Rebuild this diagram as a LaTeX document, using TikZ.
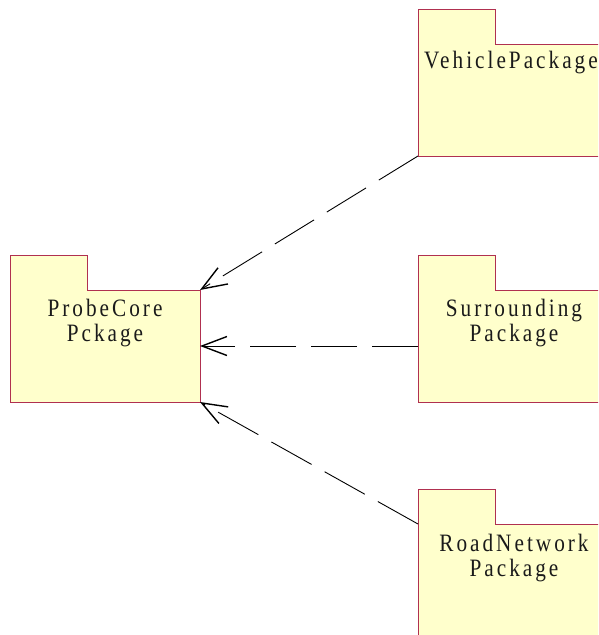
\documentclass[tikz,border=0pt]{standalone}
\usepackage{fontspec}
\usetikzlibrary{arrows.meta}
\newfontfamily\pkgfont[FakeStretch=0.85,LetterSpace=12]{Liberation Serif}
\definecolor{pkgborder}{HTML}{B03050}
\definecolor{pkgfill}{HTML}{FFFFCC}
\definecolor{pkgtext}{HTML}{1A1A1A}
\tikzset{
  pkgbody/.style={fill=pkgfill, draw=none, inner sep=0pt, outer sep=0pt, anchor=north west, minimum width=190pt, minimum height=112pt},
  pkgtab/.style={fill=pkgfill, draw=none, inner sep=0pt, outer sep=0pt, anchor=south west, minimum width=77pt, minimum height=35pt},
  pkgline/.style={draw=pkgborder, line width=1pt},
  pkglabel/.style={font=\pkgfont\fontsize{25pt}{25pt}\selectfont, text=pkgtext, align=center, inner sep=0pt, anchor=base},
  depline/.style={line width=0.9pt, dash pattern=on 46pt off 15pt, -{Straight Barb[length=25pt,width=19pt,line width=1.4pt]}}
}
\begin{document}
\begin{tikzpicture}[x=1pt,y=-1pt]
\useasboundingbox (0,0) rectangle (598,635);
\clip (0,0) rectangle (598,635);
% ProbeCore package
\node[pkgbody] (core) at (10,290) {};
\node[pkgtab] (coretab) at (10,290) {};
\draw[pkgline] (core.south west) -- (coretab.north west) -- (coretab.north east) -- (coretab.south east) -- (core.north east) -- (core.south east) -- cycle;
\node[pkglabel] (coretext) at (105,341) {ProbeCore\\Pckage};
% Vehicle package
\node[pkgbody] (veh) at (418,44) {};
\node[pkgtab] (vehtab) at (418,44) {};
\draw[pkgline] (veh.south west) -- (vehtab.north west) -- (vehtab.north east) -- (vehtab.south east) -- (veh.north east) -- (veh.south east) -- cycle;
\node[pkglabel] (vehtext) at (511,68) {VehiclePackage};
% Surrounding package
\node[pkgbody] (sur) at (418,290) {};
\node[pkgtab] (surtab) at (418,290) {};
\draw[pkgline] (sur.south west) -- (surtab.north west) -- (surtab.north east) -- (surtab.south east) -- (sur.north east) -- (sur.south east) -- cycle;
\node[pkglabel] (surtext) at (514,341) {Surrounding\\Package};
% RoadNetwork package
\node[pkgbody] (road) at (418,524) {};
\node[pkgtab] (roadtab) at (418,524) {};
\draw[pkgline] (road.south west) -- (roadtab.north west) -- (roadtab.north east) -- (roadtab.south east) -- (road.north east) -- (road.south east) -- cycle;
\node[pkglabel] (roadtext) at (514,576) {RoadNetwork\\Package};
% dependencies
\draw[depline] (veh.south west) -- (core.north east);
\draw[depline] (sur.west) -- (core.east);
\draw[depline] (road.north west) -- (core.south east);
\end{tikzpicture}
\end{document}
